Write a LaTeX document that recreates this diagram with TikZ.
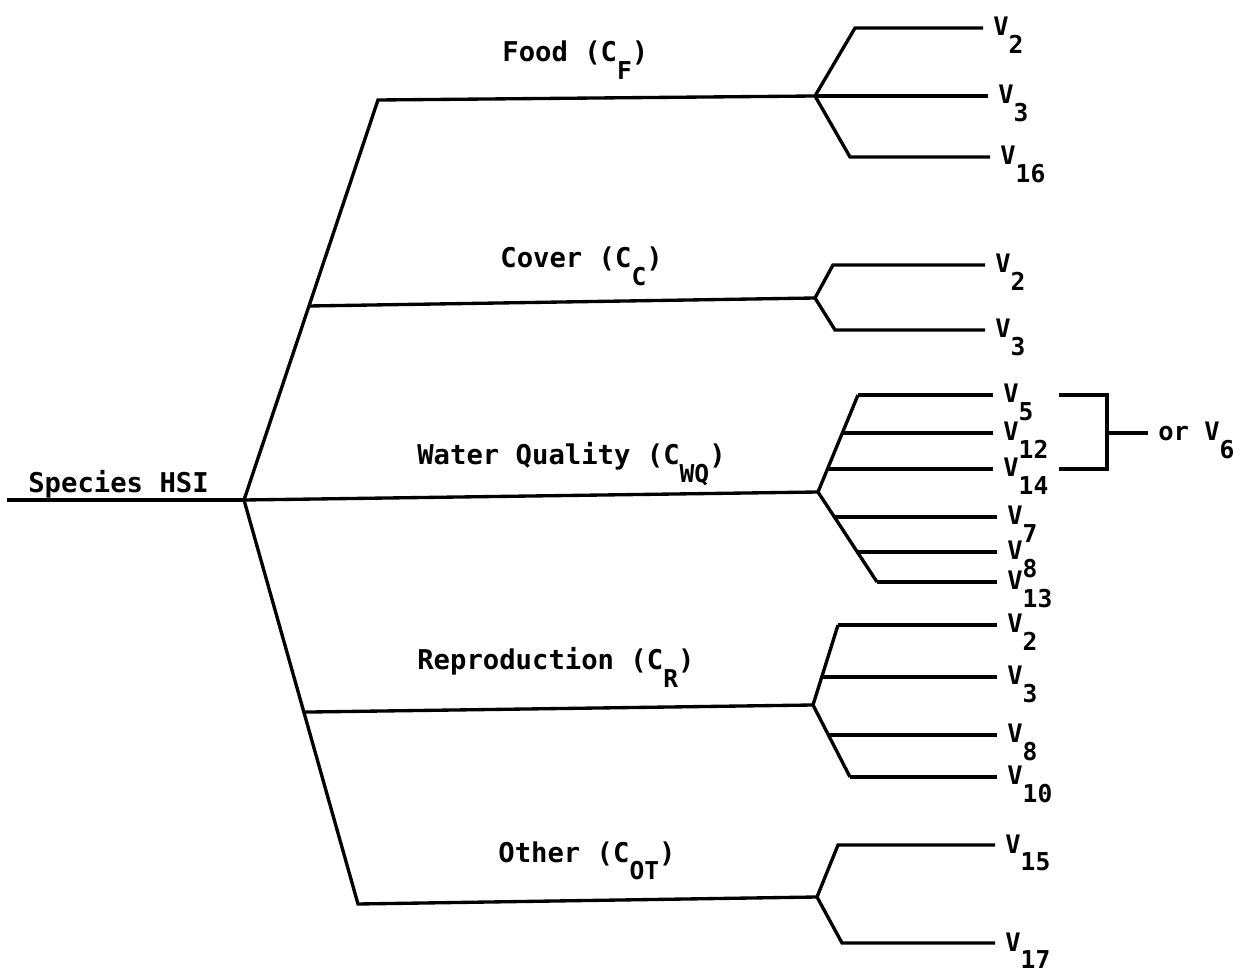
\documentclass[tikz,border=0pt]{standalone}
\usepackage{fontspec}
\usepackage{tikz}
\usetikzlibrary{positioning}
\newfontfamily\typefont{DejaVu Sans Mono}
\newcommand{\subtxt}[1]{\raisebox{-0.35cm}{\fontsize{14}{15}\selectfont #1}}
\tikzset{
  branch/.style={line width=1.9pt, line join=miter},
  clab/.style={anchor=base west, inner sep=0pt, font=\typefont\bfseries\fontsize{15.5}{16}\selectfont},
  vlab/.style={anchor=base west, inner xsep=0.2cm, inner ysep=0pt, font=\typefont\bfseries\fontsize{14.5}{15}\selectfont},
}

\begin{document}
\begin{tikzpicture}[x=0.02cm, y=-0.02cm]
		\useasboundingbox (0,0) rectangle (1255,979);
		% Root line
		\coordinate (start) at (7,500);
		\coordinate (hsi) at (244,500);
		\node[clab] (hsilab) at (28,493) {Species HSI};
		\draw[branch] (start) -- (hsi);
		% Component forks
		\coordinate (food) at (378,100);
		\coordinate (other) at (358,904);
		\coordinate (ffork) at (815,96);
		\coordinate (cfork) at (815,298);
		\coordinate (wfork) at (818,492);
		\coordinate (rfork) at (813,705);
		\coordinate (ofork) at (817,897);
		% Component labels
		\node[clab] (foodlab) at (502,62) {Food (C\subtxt{F})};
		\node[clab] (coverlab) at (500,268) {Cover (C\subtxt{C})};
		\node[clab] (wqlab) at (417,465) {Water Quality (C\subtxt{WQ})};
		\node[clab] (reprolab) at (417,670) {Reproduction (C\subtxt{R})};
		\node[clab] (otherlab) at (498,862) {Other (C\subtxt{OT})};
		% Main branches
		\draw[branch] (hsi) -- coordinate[pos=0.485] (cover) (food) -- (ffork);
		\draw[branch] (cover) -- (cfork);
		\draw[branch] (hsi) -- (wfork);
		\draw[branch] (hsi) -- coordinate[pos=0.525] (repro) (other) -- (ofork);
		\draw[branch] (repro) -- (rfork);
		% Food variables
		\foreach \nm/\bx/\by/\ex/\lab in {f2/855/28/983/2, f3/815/96/988/3, f16/850/157/990/16}{
			\coordinate (\nm) at (\bx,\by);
			\node[vlab] (\nm lab) at (\ex,\by+8) {V\subtxt{\lab}};
			\draw[branch] (ffork) -- (\nm) -- (\nm lab.west |- \nm);
		}
		% Cover variables
		\foreach \nm/\bx/\by/\ex/\lab in {c2/833/265/985/2, c3/835/330/985/3}{
			\coordinate (\nm) at (\bx,\by);
			\node[vlab] (\nm lab) at (\ex,\by+8) {V\subtxt{\lab}};
			\draw[branch] (cfork) -- (\nm) -- (\nm lab.west |- \nm);
		}
		% Water quality variables
		\coordinate (w5) at (858,395);
		\coordinate (w13) at (877,582);
		\draw[branch] (wfork) -- coordinate[pos=0.237] (w14) coordinate[pos=0.608] (w12) (w5);
		\draw[branch] (wfork) -- coordinate[pos=0.278] (w7) coordinate[pos=0.667] (w8) (w13);
		\foreach \nm/\y/\ex/\lab in {w5/395/993/5, w12/433/993/12, w14/469/993/14, w7/517/997/7, w8/552/997/8, w13/582/997/13}{
			\node[vlab] (\nm lab) at (\ex,\y+8) {V\subtxt{\lab}};
			\draw[branch] (\nm) -- (\nm lab.west |- \nm);
		}
		% Bracket: V5, V12, V14 or V6
		\coordinate (brk) at (1107,433);
		\node[vlab] (orlab) at (1148,441) {or V\subtxt{6}};
		\draw[branch] (w14lab.east |- w5) -- (brk |- w5) -- (brk |- w14) -- (w14lab.east |- w14);
		\draw[branch] (brk) -- (orlab.west |- brk);
		% Reproduction variables
		\coordinate (r2) at (838,625);
		\coordinate (r10) at (850,777);
		\draw[branch] (rfork) -- coordinate[pos=0.35] (r3) (r2);
		\draw[branch] (rfork) -- coordinate[pos=0.417] (r8) (r10);
		\foreach \nm/\y/\ex/\lab in {r2/625/997/2, r3/677/997/3, r8/735/997/8, r10/777/997/10}{
			\node[vlab] (\nm lab) at (\ex,\y+8) {V\subtxt{\lab}};
			\draw[branch] (\nm) -- (\nm lab.west |- \nm);
		}
		% Other variables
		\foreach \nm/\bx/\by/\ex/\lab in {o15/838/845/995/15, o17/842/943/995/17}{
			\coordinate (\nm) at (\bx,\by);
			\node[vlab] (\nm lab) at (\ex,\by+8) {V\subtxt{\lab}};
			\draw[branch] (ofork) -- (\nm) -- (\nm lab.west |- \nm);
		}
	\end{tikzpicture}
\end{document}
